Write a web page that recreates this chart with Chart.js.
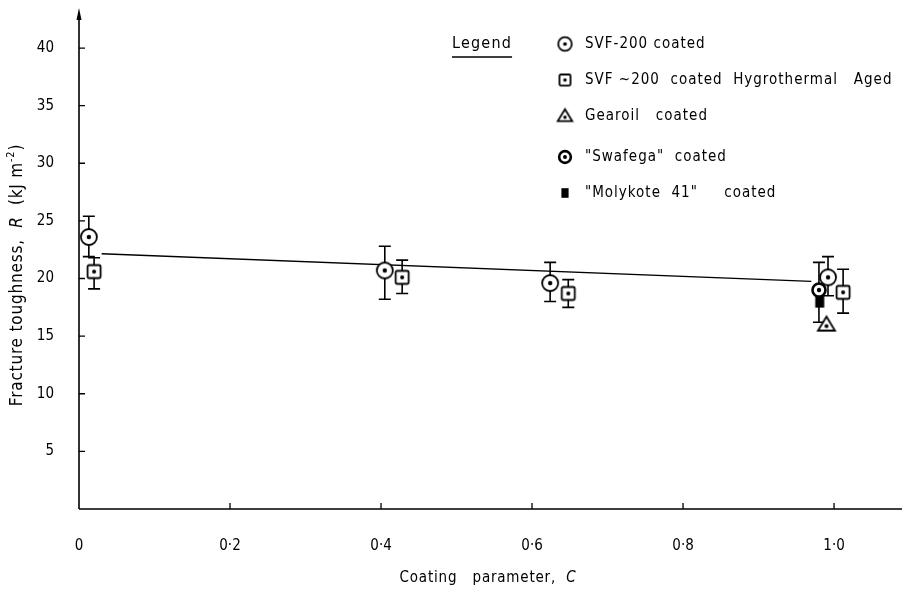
<!DOCTYPE html>
<html><head><meta charset="utf-8">
<script src="https://cdn.jsdelivr.net/npm/chart.js@4/dist/chart.umd.min.js"></script>
<style>html,body{margin:0;padding:0;background:#fff}</style>
</head><body>
<canvas id="c" width="921" height="596"></canvas>
<script>
const FONT = '"DejaVu Sans Condensed", "DejaVu Sans", sans-serif';

// ---- data ----
const xTicks = [0, 0.2, 0.4, 0.6, 0.8, 1.0];
const xTickLabels = ['0', '0·2', '0·4', '0·6', '0·8', '1·0'];
const yTicks = [5, 10, 15, 20, 25, 30, 35, 40];

const svfX = [0.013, 0.405, 0.624, 0.992];
const svfY = [23.6, 20.7, 19.6, 20.1];
const svfHi = [25.4, 22.8, 21.4, 21.9];
const svfLo = [21.9, 18.2, 18.0, 18.5];

const agedX = [0.02, 0.428, 0.648, 1.012];
const agedY = [20.6, 20.1, 18.7, 18.8];
const agedHi = [21.8, 21.6, 19.9, 20.8];
const agedLo = [19.1, 18.7, 17.5, 17.0];

const gearX = [0.99];
const gearY = [16.0];

const swafX = [0.98];
const swafY = [19.0];
const swafHi = [21.4];
const swafLo = [16.2];

const molyX = [0.981];
const molyY = [18.0];

const fitX = [0.03, 0.97];
const fitY = [22.15, 19.75];

const legendLabels = ['SVF-200 coated', 'SVF ~200  coated  Hygrothermal   Aged', 'Gearoil   coated', '"Swafega"  coated', '"Molykote  41"     coated'];
const legendTitle = 'Legend';
const yTitleParts = [['Fracture toughness,  ', 'n'], ['R', 'i'], ['  (kJ m', 'n'], ['-2', 's'], [')', 'n']];
const xTitleParts = [['Coating   parameter,  ', 'n'], ['C', 'i']];

// ---- markers ----
function makeMarker(type, s) {
  const c = document.createElement('canvas');
  const n = Math.ceil(22 * s);
  c.width = n; c.height = n;
  const g = c.getContext('2d');
  const m = n / 2;
  g.strokeStyle = '#000'; g.fillStyle = '#fff'; g.lineWidth = 1.8;
  const dot = (r) => { g.fillStyle = '#000'; g.beginPath(); g.arc(m, m, r, 0, Math.PI * 2); g.fill(); };
  if (type === 'circ') {
    g.beginPath(); g.arc(m, m, 8 * s, 0, Math.PI * 2); g.fill(); g.stroke(); dot(2.2 * s);
  } else if (type === 'sq') {
    const h = 6.5 * s;
    g.beginPath(); g.roundRect(m - h, m - h, 2 * h, 2 * h, 1.5); g.fill(); g.stroke(); dot(2 * s);
  } else if (type === 'tri') {
    g.beginPath(); g.moveTo(m, m - 8 * s); g.lineTo(m + 8.5 * s, m + 6 * s); g.lineTo(m - 8.5 * s, m + 6 * s); g.closePath();
    g.fill(); g.stroke();
    g.fillStyle = '#000'; g.beginPath(); g.arc(m, m + 1.5 * s, 2 * s, 0, Math.PI * 2); g.fill();
  } else if (type === 'swaf') {
    g.lineWidth = 2.6;
    g.beginPath(); g.arc(m, m, 6.5 * s, 0, Math.PI * 2); g.fill(); g.stroke(); dot(2.2 * s);
  } else if (type === 'fill') {
    g.fillStyle = '#000'; g.fillRect(m - 4.5 * s, m - 6 * s, 9 * s, 12 * s);
  }
  return c;
}
const mk = {
  circ: makeMarker('circ', 1), sq: makeMarker('sq', 1), tri: makeMarker('tri', 1),
  swaf: makeMarker('swaf', 1), fill: makeMarker('fill', 1)
};
const mkL = {
  circ: makeMarker('circ', 0.85), sq: makeMarker('sq', 0.85), tri: makeMarker('tri', 0.85),
  swaf: makeMarker('swaf', 0.9), fill: makeMarker('fill', 0.8)
};

const pts = (xs, ys) => xs.map((x, i) => ({ x, y: ys[i] }));

const errSets = [
  { xs: svfX, hi: svfHi, lo: svfLo },
  { xs: agedX, hi: agedHi, lo: agedLo },
  { xs: swafX, hi: swafHi, lo: swafLo }
];

function drawParts(ctx, parts, size) {
  const fontOf = t => t === 'i' ? 'italic ' + size + 'px ' + FONT : t === 's' ? Math.round(size * 0.65) + 'px ' + FONT : size + 'px ' + FONT;
  let total = 0;
  parts.forEach(([txt, t]) => { ctx.font = fontOf(t); total += ctx.measureText(txt).width; });
  let x = -total / 2;
  parts.forEach(([txt, t]) => {
    ctx.font = fontOf(t);
    ctx.fillText(txt, x, t === 's' ? -size * 0.4 : 0);
    x += ctx.measureText(txt).width;
  });
}

const decor = {
  id: 'decor',
  beforeDatasetsDraw(chart) {
    const { ctx, scales: { x, y } } = chart;
    ctx.save();
    ctx.strokeStyle = '#000'; ctx.lineWidth = 1.6;
    errSets.forEach(e => {
      e.xs.forEach((xv, i) => {
        const px = x.getPixelForValue(xv);
        const ph = y.getPixelForValue(e.hi[i]);
        const pl = y.getPixelForValue(e.lo[i]);
        ctx.beginPath();
        ctx.moveTo(px, ph); ctx.lineTo(px, pl);
        ctx.moveTo(px - 6, ph); ctx.lineTo(px + 6, ph);
        ctx.moveTo(px - 6, pl); ctx.lineTo(px + 6, pl);
        ctx.stroke();
      });
    });
    ctx.restore();
  },
  afterDraw(chart) {
    const { ctx, chartArea: a, scales: { x, y } } = chart;
    ctx.save();
    ctx.strokeStyle = '#000'; ctx.fillStyle = '#000'; ctx.lineWidth = 1.6;
    // axes
    ctx.beginPath();
    ctx.moveTo(a.left, a.bottom); ctx.lineTo(a.right, a.bottom);
    ctx.moveTo(a.left, a.bottom); ctx.lineTo(a.left, a.top + 4);
    ctx.stroke();
    ctx.beginPath();
    ctx.moveTo(a.left, a.top - 2); ctx.lineTo(a.left - 2.5, a.top + 10); ctx.lineTo(a.left + 2.5, a.top + 10); ctx.closePath();
    ctx.fill();
    // inward ticks
    ctx.lineWidth = 1.3;
    ctx.beginPath();
    yTicks.forEach(v => { const p = y.getPixelForValue(v); ctx.moveTo(a.left, p); ctx.lineTo(a.left + 6, p); });
    xTicks.forEach(v => { if (v === 0) return; const p = x.getPixelForValue(v); ctx.moveTo(p, a.bottom); ctx.lineTo(p, a.bottom - 6); });
    ctx.stroke();
    // titles
    ctx.textBaseline = 'middle';
    ctx.textAlign = 'left';
    ctx.letterSpacing = '0.8px';
    ctx.save();
    ctx.translate(18, 275); ctx.rotate(-Math.PI / 2);
    drawParts(ctx, yTitleParts, 17);
    ctx.restore();
    ctx.save();
    ctx.translate(488, 578);
    drawParts(ctx, xTitleParts, 15);
    ctx.restore();
    // legend
    ctx.font = '16px ' + FONT;
    ctx.letterSpacing = '1.2px';
    ctx.fillText(legendTitle, 452, 44);
    const tw = ctx.measureText(legendTitle).width;
    ctx.lineWidth = 1.5;
    ctx.beginPath(); ctx.moveTo(452, 57); ctx.lineTo(452 + tw, 57); ctx.stroke();
    ctx.font = '15px ' + FONT;
    ctx.letterSpacing = '1px';
    const rows = [44, 80, 116, 157, 193];
    const keys = ['circ', 'sq', 'tri', 'swaf', 'fill'];
    rows.forEach((ry, i) => {
      const im = mkL[keys[i]];
      ctx.drawImage(im, 565 - im.width / 2, ry - im.height / 2);
      ctx.fillStyle = '#000';
      ctx.fillText(legendLabels[i], 585, ry);
    });
    ctx.restore();
  }
};

new Chart(document.getElementById('c'), {
  type: 'scatter',
  data: {
    datasets: [
      { label: legendLabels[0], data: pts(svfX, svfY), pointStyle: mk.circ, order: 1 },
      { label: legendLabels[1], data: pts(agedX, agedY), pointStyle: mk.sq, order: 1 },
      { label: legendLabels[2], data: pts(gearX, gearY), pointStyle: mk.tri, order: 1 },
      { label: legendLabels[3], data: pts(swafX, swafY), pointStyle: mk.swaf, order: 0 },
      { label: legendLabels[4], data: pts(molyX, molyY), pointStyle: mk.fill, order: 0 },
      { label: 'fit', data: pts(fitX, fitY), showLine: true, pointRadius: 0, borderColor: '#000', borderWidth: 1.4, order: 5 }
    ]
  },
  options: {
    responsive: false,
    animation: false,
    events: [],
    layout: { padding: { left: 0, top: 10, right: 19, bottom: 0 } },
    plugins: { legend: { display: false }, tooltip: { enabled: false } },
    scales: {
      x: {
        type: 'linear', min: 0, max: 1.09,
        afterFit: s => { s.height = 87; s.paddingLeft = 0; s.paddingRight = 0; },
        afterBuildTicks: s => { s.ticks = xTicks.map(v => ({ value: v })); },
        grid: { display: false }, border: { display: false },
        ticks: { color: '#000', padding: 20, maxRotation: 0, autoSkip: false, font: { family: FONT, size: 15 },
          callback: (v, i) => xTickLabels[i] },
        title: { display: false }
      },
      y: {
        type: 'linear', min: 0, max: 43.3,
        afterFit: s => { s.width = 79; s.paddingTop = 0; s.paddingBottom = 0; },
        afterBuildTicks: s => { s.ticks = yTicks.map(v => ({ value: v })); },
        grid: { display: false }, border: { display: false },
        ticks: { color: '#000', padding: 17, autoSkip: false, font: { family: FONT, size: 15 } },
        title: { display: false }
      }
    }
  },
  plugins: [decor]
});
</script>
</body></html>
